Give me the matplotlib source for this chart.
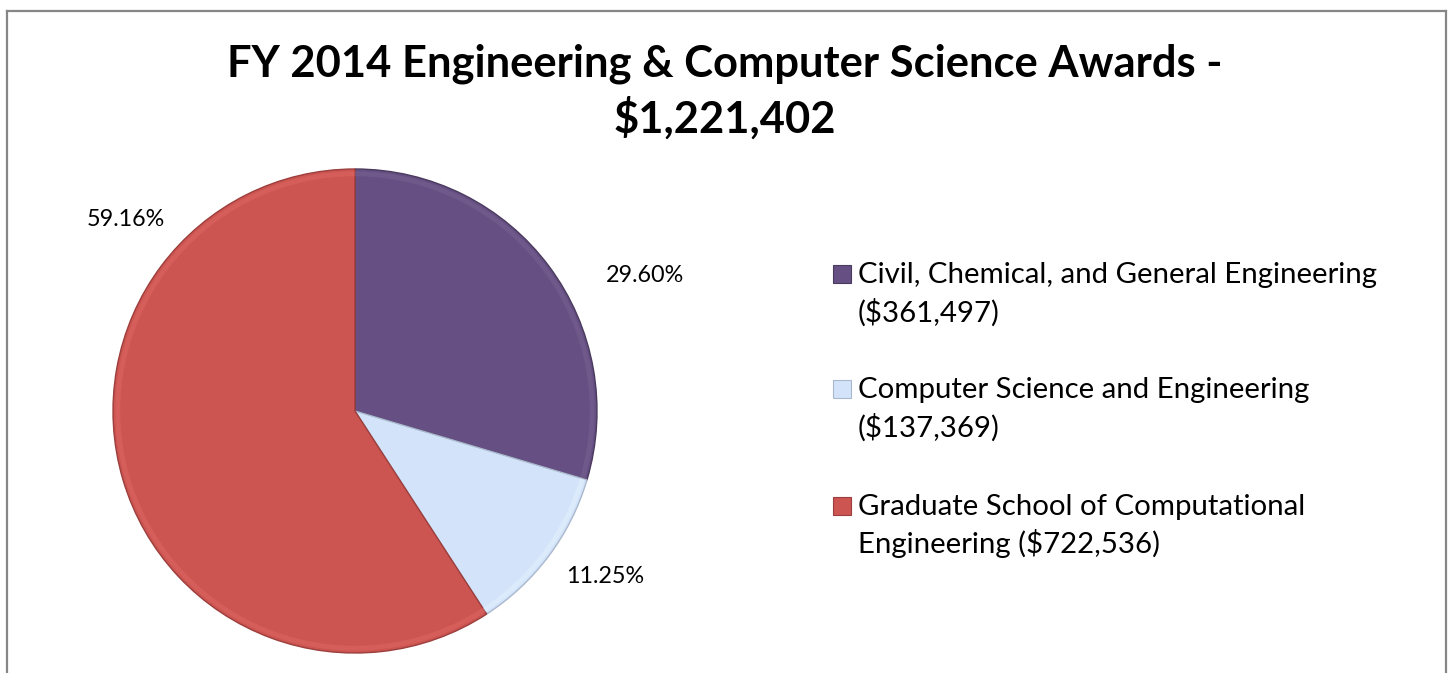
import matplotlib
matplotlib.use('Agg')
from matplotlib import pyplot as plt
from matplotlib.lines import Line2D
from matplotlib.patches import Rectangle
import matplotlib.colors as mcolors

# data
departments = ['Civil, Chemical, and General Engineering',
               'Computer Science and Engineering',
               'Graduate School of Computational Engineering']
amounts = [361497, 137369, 722536]
legend_lines = [('Civil, Chemical, and General Engineering', '($361,497)'),
                ('Computer Science and Engineering', '($137,369)'),
                ('Graduate School of Computational', 'Engineering ($722,536)')]
title_lines = ['FY 2014 Engineering & Computer Science Awards -', '$1,221,402']

colors = ['#664F82', '#D3E3F9', '#CC5552']
edge_colors = ['#4A3A5E', '#A9B8CC', '#9C3E3C']
# where Excel put the percentage labels (in pie radius units)
pct_pos = [(1.200, 0.558), (1.033, -0.682), (-0.946, 0.792)]

W, H = 1448, 673
fig = plt.figure(figsize=(W / 100, H / 100), dpi=100)
plt.rcParams['font.family'] = ['Lato', 'DejaVu Sans']

# chart border (bottom is cut off)
bc = '#868686'
fig.add_artist(Line2D([6.5 / W, 6.5 / W], [0, 1 - 10.5 / H], transform=fig.transFigure, color=bc, lw=1.6))
fig.add_artist(Line2D([6.5 / W, 1445.5 / W], [1 - 10.5 / H, 1 - 10.5 / H], transform=fig.transFigure, color=bc, lw=1.6))
fig.add_artist(Line2D([1445.5 / W, 1445.5 / W], [0, 1 - 10.5 / H], transform=fig.transFigure, color=bc, lw=1.6))

for line, base in zip(title_lines, [77, 133]):
    fig.text(725 / W, 1 - base / H, line, ha='center', va='baseline', fontsize=31.3, fontweight='bold')

# pie
cx, cy, r = 355, 411, 242
ax = fig.add_axes([(cx - r) / W, (H - cy - r) / H, 2 * r / W, 2 * r / H])
wedges, _ = ax.pie(amounts, colors=colors, startangle=90, counterclock=False,
                   radius=1, wedgeprops=dict(linewidth=1.0))
for w, ec in zip(wedges, edge_colors):
    w.set_edgecolor(ec)

# soft bevel rim along the outer edge
rim_cols = [mcolors.to_rgba(c) for c in colors]
rim_cols = [(min(1, c[0] + 0.1), min(1, c[1] + 0.1), min(1, c[2] + 0.1), 0.35) for c in rim_cols]
ax.pie(amounts, colors=rim_cols, startangle=90, counterclock=False, radius=0.99,
       wedgeprops=dict(width=0.02, linewidth=0))

total = sum(amounts)
for a, (px, py) in zip(amounts, pct_pos):
    ax.text(px, py, '{:.2f}%'.format(100 * a / total), ha='center', va='center', fontsize=16.8)
ax.set_xlim(-1, 1)
ax.set_ylim(-1, 1)
ax.set_aspect('equal')
ax.axis('off')

# legend, drawn by hand so the swatch sits on the first line
baselines = [283, 398, 515]
for (l1, l2), col, ec, base in zip(legend_lines, colors, edge_colors, baselines):
    fig.add_artist(Rectangle((833 / W, 1 - base / H), 18 / W, 18 / H, transform=fig.transFigure,
                             facecolor=col, edgecolor=ec, lw=0.8))
    fig.text(858 / W, 1 - base / H, l1, ha='left', va='baseline', fontsize=21.2)
    fig.text(858 / W, 1 - (base + 38.5) / H, l2, ha='left', va='baseline', fontsize=21.2)

fig.savefig('out.png', dpi=100)
